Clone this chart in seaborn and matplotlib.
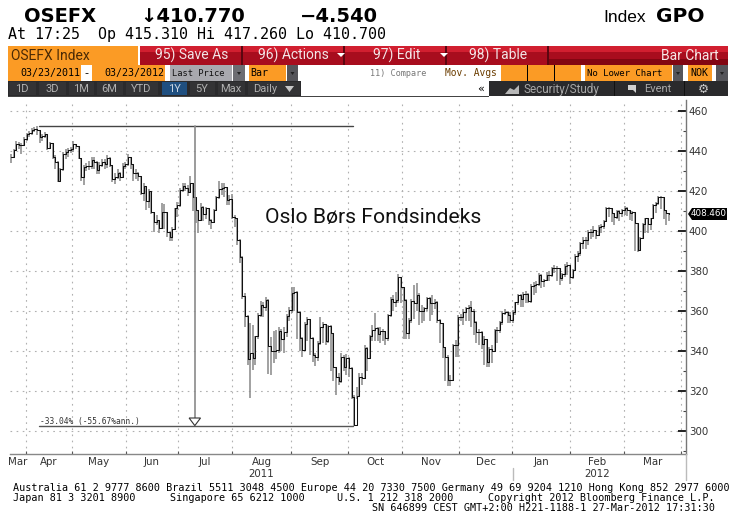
import matplotlib
matplotlib.use('Agg')
import matplotlib.pyplot as plt
from matplotlib.patches import Rectangle, Polygon
import pandas as pd
import seaborn as sns

closes = [
    436.8,440.5,443.5,443,443,445.8,448.3,448.8,450.7,451,
    450.5,446.8,447.7,448.3,441.3,443.8,437.2,434.7,425,430.8,
    438.7,439.3,440.5,440.8,443.3,442.5,436.7,427.2,432.2,432.5,
    432.5,435.5,434.7,430.5,433,434.7,433.3,436.3,433,426,
    427.2,428.8,427.2,432.7,433.3,437.2,433.3,428.8,428.8,427.5,
    418.8,422.5,415,420,409.3,404.3,405.5,401.7,409.3,409.3,
    399.7,396.8,401,411.3,413,420.5,422.5,421.7,419.3,423.8,
    417,410.5,405.5,412.2,408.5,411.3,405.5,404.7,410.5,417.2,
    421,421.3,422.2,415.5,415.8,407.2,406.3,395.5,387.2,367.5,
    357.7,335.8,338.8,336.3,347.5,358,363,361.8,365.5,342.7,
    340,340,340.5,350,346,349.3,357.7,360.5,368.8,369.7,
    359.7,346.7,340.5,353.5,356,346.5,338,336.8,344.2,352.2,
    353.5,345,352.5,348.8,331.8,327,325.2,337.2,332.2,336.3,
    331.3,317.2,302.9,317.7,327,326.7,341.3,336.3,347.5,350.5,
    351.3,348.5,350,350,346.3,358,365.8,364.7,365.5,376.8,
    372,365.5,348.8,355.6,365.2,364,368,360,360,361.3,
    366.3,363.8,363.8,364.5,355.6,353.8,341.8,337,325.5,325.5,
    343,343,357.2,357.2,359.7,361.3,362.2,360,354.7,349.7,
    349.7,343.5,346,334.3,340.8,340,350.5,350.5,354.7,359.2,
    359.7,358,355.5,359.7,364.3,368,365.8,368.5,368.5,365.2,
    372.5,373,373.5,378,375,375.5,378,378,381.3,381.7,
    381.3,376.3,378.3,382.7,383,377.2,380.5,387.7,388.8,393.8,
    395.5,395.5,399.7,399.7,400.5,398,402.2,402.7,405,411.7,
    411.3,408.8,407.2,410,408.8,410.5,411.3,410.5,408.8,409.7,
    403.8,390.5,396.3,403.3,406.3,403.3,406.3,413,413.8,417.2,
    417.2,410.5,408.8,408.5,
]
highs = [
    438.5,441,445,444.5,444,447,449,450,451.5,452,
    452.3,450.5,448.5,449.5,448.5,444.5,444,438,435,431.5,
    439.5,441,441.5,442,445,443.5,442.5,436.5,433,434,
    435,437,437,435,434.5,436,436,438,437,433,
    429,431,429.5,434,434.5,438.5,437,433.5,431,429.5,
    427.5,424,422.5,421,420,409.5,408,405.5,414,413.5,
    409,399.5,402,411.5,414.5,421.5,424,424,423,427.5,
    423.5,417,410.5,414,412.5,412,411,406,411,417.5,
    425,424,424,422,418,418.5,408,406,396,387.5,
    369,358,354,353,347.5,359,365,364.5,367,366,
    347,350,350.5,352,351,352,358.5,362,372,372.2,
    370,360,347,354.5,357,356,347,339,345,357,
    354.5,353.5,353,353,349,332,329,339,338,338.5,
    337,332,318,322,329,329,343,342,348,353,
    359.2,352,352,351,350,358.5,367,368,369.5,378.5,
    377,372,366,356.5,366,373,374,369,363,362,
    367,367,368,366,365,356,354,342,338,328,
    343.5,345.5,358,358.5,361,362,363,365,361,355,
    351,350,347.5,346,342,343,351,352,355,360,
    361,360,359.5,360.5,364.5,368.5,368.5,369.5,370,369,
    373.5,374.5,375,379,378.5,376,379.5,380,382,383,
    382.5,381,379,383.5,384.5,383,381,388.5,390,394.5,
    397,397,400.5,401,402.5,400.5,403,403.5,405.5,412,
    412,411,409,410.5,410.5,411,412.5,412,410.5,410,
    409.5,403.5,397,404,406.5,406.5,406.5,413.5,414.5,417.5,
    417.5,417,410.5,409,
]
lows = [
    434,436.5,440.5,441,438.5,443,445,447,448,449.5,
    448,444,445,446.5,440.5,441,436,431,424.5,425,
    430,436,437,439,439.5,441,436,425,423,430,
    430.5,431,431,428.5,428.5,432,431,431.5,432,424.5,
    423.5,426,425,427,431,432.5,431,425,426,425,
    418,415,410.5,411.5,408.5,399.5,403,399,401,401,
    397,395,395,400.5,407,412,419.5,420,417.5,419,
    410,404,399,405,405,406,403,401,404,410,
    416,418,417,413,413,406,402,393,384,366,
    352,333,316.5,330.5,333,346,357,357,360,328.5,
    328,334,336,339,340,338.8,347,355,359,360,
    346,340,337,340,345,338,334.5,332.5,335,343,
    344,343,344,330,325,318,323,324,330,328,
    327,316,302.7,316,317,323,326,330,336,345,
    345,345,344,345,343,345,357,360,362,364,
    364,346,346,346,354,356,360,353,354,355,
    360,355,358,361,354,344,336.5,325,322.5,322.5,
    325,337,337,355,353,355,355,352,348,344,
    343,341,333,332,332,334,340,344,349,353,
    358,354,354,354,358,363,362,362,364,364,
    364,368,369,372.5,371.5,372,375,375,377,379,
    375,373,375,377,378,373.5,376,380.5,384.5,387.5,
    391,391,393,396,397,396,397.5,399,401,405,
    407,404.5,403,406,405,407,408,407.5,405.5,405,
    390,389.5,390,396,399,399,400.5,406,409,413,
    411,406,403,405,
]
month_labels = ['Mar','Apr','May','Jun','Jul','Aug','Sep','Oct','Nov','Dec','Jan','Feb','Mar']
# first bar index of each month, last one is the empty April on the right edge
month_starts = [-0.4,5.65,23.5,44.2,64.2,85,107.7,129.6,150.4,172.3,192.7,215,235.8,257.7]
y_major = [300,320,340,360,380,400,420,440,460]
y_minor = [290,310,330,350,370,390,410,430,450]

W, H = 736, 527
sns.set_theme(style='white')
fig = plt.figure(figsize=(W/100, H/100), dpi=100, facecolor='white')

# overlay in pixel coords for the terminal chrome
ui = fig.add_axes([0,0,1,1], zorder=3)
ui.set_xlim(0, W)
ui.set_ylim(H, 0)
ui.axis('off')
ui.patch.set_alpha(0)

def box(x0, x1, y0, y1, color, **kw):
    ui.add_patch(Rectangle((x0,y0), x1-x0, y1-y0, facecolor=color, edgecolor='none', **kw))

def label(x, y, s, color='black', size=8, ha='left', family='DejaVu Sans', **kw):
    ui.text(x, y, s, color=color, fontsize=size, ha=ha, va='center', family=family, **kw)

# header
label(24, 16, 'OSEFX', size=14, weight='bold', family='DejaVu Sans')
label(140, 16, '\u2193410.770', size=14, weight='bold')
label(300, 16, '\u22124.540', size=14, weight='bold')
label(603, 17, 'Index', size=12.5, family='Liberation Sans')
label(656, 17, 'GPO', size=14.5, weight='bold')
label(8, 35, 'At 17:25  Op 415.310 Hi 417.260 Lo 410.700', size=10.8, family='DejaVu Sans Mono')

# first toolbar row
ORANGE = '#fb9b25'
RED = '#a80d1e'
box(8, 138, 46, 65, ORANGE)
label(11, 56, 'OSEFX Index', color='#4a2a05', size=10, family='Roboto')
box(140, 728, 46, 65, RED)
box(140, 728, 46, 52, '#d11f30')
box(547, 728, 59, 65, '#820612')
for x in [241, 343, 445, 547]:
    box(x, x+1.5, 46, 65, '#5c0610')
label(155, 55, '95) Save As', color='#f4e6e8', size=10, family='Roboto')
label(258, 55, '96) Actions', color='#f4e6e8', size=10, family='Roboto')
label(373, 55, '97) Edit', color='#f4e6e8', size=10, family='Roboto')
label(469, 55, '98) Table', color='#f4e6e8', size=10, family='Roboto')
label(719, 56, 'Bar Chart', color='#f8e8e8', size=10, ha='right', family='Roboto')
for x in [337, 440]:
    ui.add_patch(Polygon([(x,53),(x+8,53),(x+4,57)], facecolor='white', edgecolor='none'))

# second row
box(8, 728, 65, 81, '#ffffff')
box(8, 81, 65, 81, ORANGE)
box(92, 165, 65, 81, ORANGE)
label(86.5, 73, '-', size=8, ha='center')
label(20, 73, '03/23/2011', size=7.2, family='DejaVu Sans Mono')
label(104, 73, '03/23/2012', size=7.2, family='DejaVu Sans Mono')
box(170, 232, 65, 81, '#a9a9ae')
label(172, 73, 'Last Price', size=6.3, family='DejaVu Sans Mono', color='#111111')
box(233, 245, 65, 81, '#6d6d72')
box(249, 286, 65, 81, ORANGE)
label(250, 73, 'Bar', size=7.2, family='DejaVu Sans Mono')
box(287, 298, 65, 81, '#55555a')
label(370, 73, '11) Compare', size=6.1, color='#777777', family='DejaVu Sans Mono')
label(445, 73, 'Mov. Avgs', size=6.9, color='#6b3d00', family='DejaVu Sans Mono')
box(501, 581, 65, 81, ORANGE)
box(527, 528, 65, 81, 'black')
box(554, 555, 65, 81, 'black')
box(585, 672, 65, 81, ORANGE)
label(587, 73, 'No Lower Chart', size=6.5, family='DejaVu Sans Mono')
box(673, 683, 65, 81, '#55555a')
box(688, 712, 65, 81, ORANGE)
label(690, 73, 'NOK', size=7.2, family='DejaVu Sans Mono')
box(716, 728, 65, 81, '#55555a')
for x in [239, 292.5, 678, 722]:
    ui.add_patch(Polygon([(x-2,72),(x+2,72),(x,75)], facecolor='#222222', edgecolor='none'))

# third row
box(8, 728, 81, 96, '#2a2a2c')
buttons = [(8,36,'1D'),(38,66,'3D'),(68,94,'1M'),(96,123,'6M'),(125,158,'YTD'),
           (161,187,'1Y'),(189,215,'5Y'),(217,245,'Max')]
for x0, x1, s in buttons:
    box(x0+1, x1, 82, 95, '#1f4f80' if s == '1Y' else '#333335')
    label((x0+x1)/2, 89, s, color='#c8d4e0' if s == '1Y' else '#b0b0b0', size=8, ha='center', family='Roboto')
box(248, 300, 82, 95, '#333335')
label(253, 89, 'Daily', color='#b0b0b0', size=8, family='Roboto')
ui.add_patch(Polygon([(285,86),(294,86),(289.5,92)], facecolor='#c8c8c8', edgecolor='none'))
box(301, 489, 81, 96, 'white')
label(481, 89, '\u00ab', size=8, ha='center')
box(8, 489, 95.5, 96.5, '#444444')
label(524, 89, 'Security/Study', color='#a8a8a8', size=8.5, family='Roboto')
label(644, 89, 'Event', color='#a8a8a8', size=8, family='Roboto')
label(703, 89, '\u2699', color='#c8c8c8', size=9, ha='center')
ui.add_patch(Polygon([(505,94),(510,88),(514,90),(519,85),(519,94)], facecolor='#b8b8b8', edgecolor='none'))
ui.add_patch(Polygon([(628,85),(636,85),(636,93),(633,90),(628,90)], facecolor='#d0d0d0', edgecolor='none'))
box(614, 615, 81, 96, '#111111')
box(684, 685, 81, 96, '#111111')

# price panel
ax = fig.add_axes([10/W, 1-454/H, 676/W, 354/H], zorder=2)
ax.patch.set_alpha(0)
df = pd.DataFrame({'bar': range(len(closes)), 'close': closes, 'high': highs, 'low': lows})
ax.vlines(df['bar'], df['low'], df['high'], color='#888888', linewidth=1.1, zorder=3)
sns.lineplot(data=df, x='bar', y='close', ax=ax, color='#111111', linewidth=0.75,
             drawstyle='steps-post', estimator=None, sort=False, zorder=4)
ax.set_xlim(-0.38, 259.6)
ax.set_ylim(288.5, 465.5)
ax.set_xlabel('')
ax.set_ylabel('')

ax.yaxis.tick_right()
ax.set_yticks(y_major)
ax.set_yticks(y_minor, minor=True)
ax.tick_params(axis='y', which='major', direction='in', length=6, width=1.4, color='#222222',
               labelsize=7.4, labelcolor='#333333', pad=2, right=True)
ax.tick_params(axis='y', which='minor', direction='in', length=2.5, width=0.8, color='#444444', right=True)

ax.set_xticks(month_starts[1:])
ax.set_xticks([(a+b)/2 for a, b in zip(month_starts[:-1], month_starts[1:])], minor=True)
ax.set_xticklabels(month_labels, minor=True, fontsize=7.4, color='#333333')
ax.set_xticklabels([])
ax.tick_params(axis='x', which='major', direction='in', length=2.5, width=0.8, color='#555555', bottom=True)
ax.tick_params(axis='x', which='minor', length=0, pad=2.5)

ax.grid(True, which='major', axis='both', color='#b0b0b0', linewidth=0.8, linestyle=(0, (1.5, 4)))
ax.set_axisbelow(True)
for side in ['top', 'left']:
    ax.spines[side].set_visible(False)
ax.spines['right'].set_color('#777777')
ax.spines['right'].set_linewidth(1)
ax.spines['bottom'].set_color('#888888')
ax.spines['bottom'].set_linewidth(1)

# drawdown annotation
peak, trough = 452.5, 302.7
ax.plot([10.6, 131.5], [peak, peak], color='#444444', linewidth=1, zorder=5)
ax.plot([10.6, 131.5], [trough, trough], color='#555555', linewidth=1, zorder=5)
ax.plot([70.7, 70.7], [peak, trough+3], color='#8a8a8a', linewidth=1.2, zorder=5)
ax.fill([68.5, 72.9, 70.7], [306.5, 306.5, 302.7], facecolor='white', edgecolor='#333333', linewidth=0.8, zorder=6)
label(40, 421.5, '-33.04% (-55.67%ann.)', size=5.7, color='#333333', family='DejaVu Sans Mono')
label(265, 218, 'Oslo B\u00f8rs Fondsindeks', size=15.2, color='#111111', family='Roboto')

# last price tag
ui.add_patch(Polygon([(688,214),(692,208),(727,208),(727,220),(692,220)], facecolor='black', edgecolor='none'))
label(691, 214, '408.460', color='white', size=6.3, family='DejaVu Sans')

# year labels and footer
ui.plot([686, 686], [454, 480], color='#bbbbbb', linewidth=1)
ui.plot([512.5, 512.5], [468, 480], color='#bbbbbb', linewidth=1)
label(261, 474, '2011', size=7.4, ha='center', color='#333333')
label(597, 474, '2012', size=7.4, ha='center', color='#333333')
mono = dict(size=7.3, family='DejaVu Sans Mono')
label(13, 488, 'Australia 61 2 9777 8600 Brazil 5511 3048 4500 Europe 44 20 7330 7500 Germany 49 69 9204 1210 Hong Kong 852 2977 6000', **mono)
label(13, 498, 'Japan 81 3 3201 8900', **mono)
label(170, 498, 'Singapore 65 6212 1000', **mono)
label(337, 498, 'U.S. 1 212 318 2000', **mono)
label(715, 498, 'Copyright 2012 Bloomberg Finance L.P.', ha='right', **mono)
label(715, 508, 'SN 646899 CEST GMT+2:00 H221-1188-1 27-Mar-2012 17:31:30', ha='right', **mono)

fig.savefig('out.png', dpi=100, facecolor='white')
